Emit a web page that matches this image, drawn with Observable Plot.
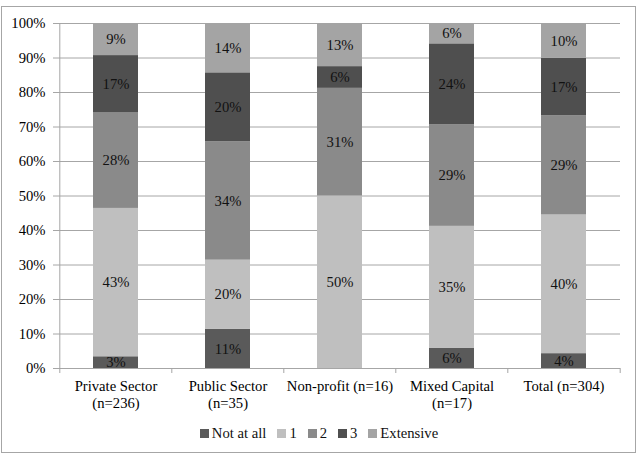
<!DOCTYPE html>
<html><head><meta charset="utf-8">
<script src="https://cdn.jsdelivr.net/npm/d3@7"></script>
<script src="https://cdn.jsdelivr.net/npm/@observablehq/plot@0.6"></script>
<style>
html,body{margin:0;padding:0;background:#fff;}
#wrap{position:relative;width:639px;height:455px;overflow:hidden;font-family:"Liberation Serif","Times New Roman",serif;}
#frame{position:absolute;left:1px;top:6px;width:633px;height:445px;border:1px solid #a6a6a6;}
#chart{position:absolute;left:0;top:0;}
#legend{position:absolute;left:5px;top:417px;width:639px;}
#legend span{margin-right:11px !important;}
#legend span > svg{margin-right:3px !important;}
#chart svg, #chart text, #legend div, #legend span{font-family:"Liberation Serif","Times New Roman",serif !important;font-size:14.67px !important;}
</style></head><body>
<div id="wrap"><div id="frame"></div><div id="chart"></div><div id="legend"></div></div>
<script>
// ---- data ----
const categories = ["Private Sector (n=236)", "Public Sector (n=35)", "Non-profit (n=16)", "Mixed Capital (n=17)", "Total (n=304)"];
const tickLabels = ["Private Sector\n(n=236)", "Public Sector\n(n=35)", "Non-profit (n=16)", "Mixed Capital\n(n=17)", "Total (n=304)"];
const series = ["Not at all", "1", "2", "3", "Extensive"];
const notAtAll  = [3.4, 11.4, 0, 5.9, 4.3];
const one       = [43.0, 20.0, 50.0, 35.3, 40.2];
const two       = [27.8, 34.3, 31.2, 29.4, 28.8];
const three     = [16.5, 20.0, 6.3, 23.5, 16.6];
const extensive = [9.3, 14.3, 12.5, 5.9, 10.1];
const yTicks = [0, 10, 20, 30, 40, 50, 60, 70, 80, 90, 100];
const colors = ["#5a5a5a", "#bfbfbf", "#8a8a8a", "#4f4f4f", "#a4a4a4"];

const seriesValues = [notAtAll, one, two, three, extensive];
const table = [];
categories.forEach((c, i) => {
  series.forEach((s, j) => table.push({category: c, series: s, value: seriesValues[j][i]}));
});

const gray = "#a6a6a6";
const bw = (639 - 58 - 19) / 5;
const fontCss = "font-family: 'Liberation Serif', 'Times New Roman', serif; font-size: 14.67px;";

const chart = Plot.plot({
  width: 639, height: 420,
  marginLeft: 58, marginRight: 19, marginTop: 23, marginBottom: 52,
  style: fontCss + " background: transparent; overflow: visible;",
  x: {domain: categories, paddingInner: 0.6, paddingOuter: 0.3, axis: null, label: null},
  y: {domain: [0, 100], axis: null, label: null},
  color: {domain: series, range: colors},
  marks: [
    Plot.gridY(yTicks, {stroke: gray, strokeOpacity: 1}),
    Plot.ruleX([categories[0]], {dx: -bw / 2, stroke: gray}),
    Plot.ruleX(categories, {dx: -bw / 2, y1: 0, y2: 0, insetBottom: -5, stroke: gray}),
    Plot.ruleX([categories[categories.length - 1]], {dx: bw / 2, y1: 0, y2: 0, insetBottom: -5, stroke: gray}),
    Plot.axisY({ticks: yTicks, tickFormat: d => d + "%", tickSize: 5, tickPadding: 8, stroke: gray, fill: "#000", label: null}),
    Plot.axisX({tickSize: 0, tickPadding: 10, tickFormat: (d) => tickLabels[categories.indexOf(d)], lineHeight: 1.16, fill: "#000", label: null}),
    Plot.barY(table, {x: "category", y: "value", fill: "series"}),
    Plot.text(table, Plot.stackY({x: "category", y: "value", z: "series", text: d => Math.round(d.value) + "%", filter: d => d.value > 0, fill: "#111"}))
  ]
});
document.getElementById("chart").append(chart);

const legend = Plot.legend({
  color: {domain: series, range: colors},
  swatchSize: 9,
  style: fontCss + " justify-content: center; margin-bottom: 0; color: #111;"
});
document.getElementById("legend").append(legend);
</script>
</body></html>
